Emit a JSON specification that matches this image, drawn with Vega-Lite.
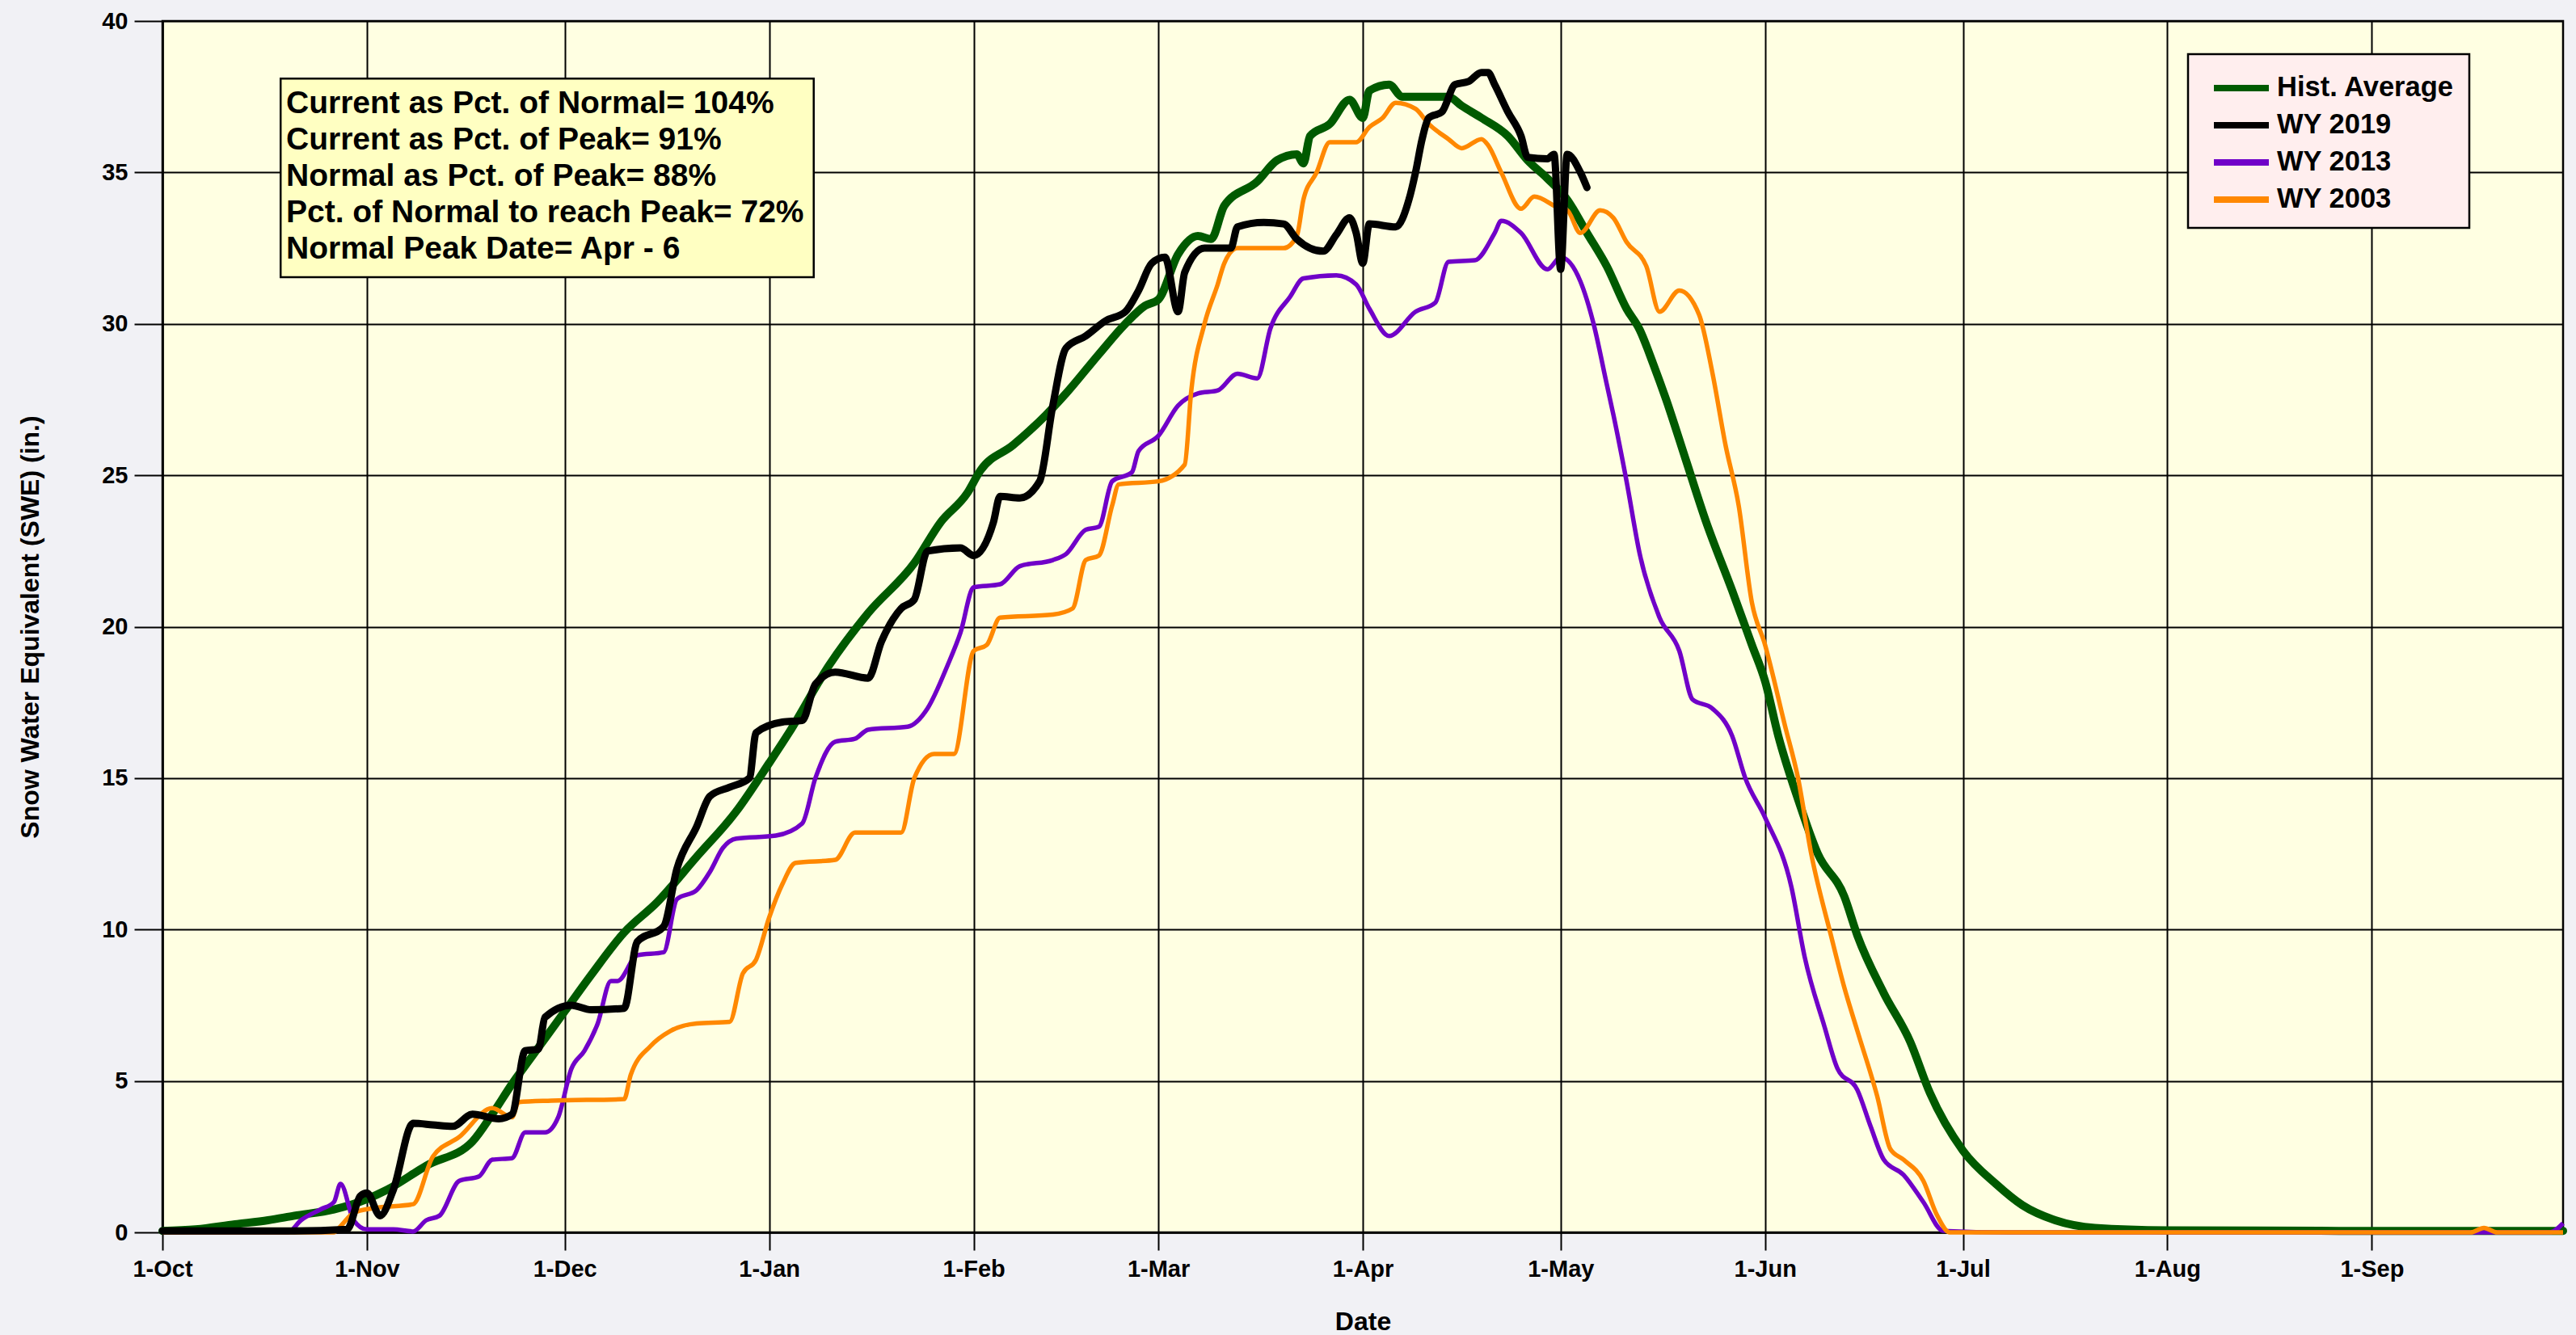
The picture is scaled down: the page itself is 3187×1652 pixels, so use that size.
{
  "$schema": "https://vega.github.io/schema/vega-lite/v6.json",
  "autosize": {"type": "none"},
  "width": 2970,
  "height": 1499,
  "padding": {"left": 201, "top": 26, "right": 16, "bottom": 127},
  "background": "#f1f1f5",
  "config": {
    "view": {"fill": "#ffffe2", "stroke": "black", "strokeWidth": 2.5},
    "font": "Liberation Sans",
    "axis": {
      "labelFont": "Liberation Sans", "labelFontWeight": "bold", "labelColor": "black",
      "titleFont": "Liberation Sans", "titleFontWeight": "bold", "titleColor": "black",
      "domainColor": "black", "domainWidth": 2.5, "tickColor": "black", "tickWidth": 2,
      "gridColor": "black", "gridWidth": 2, "gridOpacity": 1
    },
    "legend": {
      "orient": "none", "legendX": 2506, "legendY": 41,
      "fillColor": "#ffeeee", "strokeColor": "black", "strokeWidth": 2.5,
      "padding": 18, "symbolType": "M-1.7,0H1.7", "symbolStrokeWidth": 8, "symbolSize": 1600,
      "symbolFillColor": "transparent", "symbolOffset": 24,
      "labelFont": "Liberation Sans", "labelFontWeight": "bold", "labelFontSize": 34.5,
      "labelColor": "black", "labelOffset": 20, "rowPadding": 5, "labelLimit": 800
    }
  },
  "datasets": {
    "swe": [
    {"series": "Hist. Average", "date": "2018-10-01", "swe": 0.05},
    {"series": "Hist. Average", "date": "2018-10-06", "swe": 0.1},
    {"series": "Hist. Average", "date": "2018-10-12", "swe": 0.27},
    {"series": "Hist. Average", "date": "2018-10-17", "swe": 0.4},
    {"series": "Hist. Average", "date": "2018-10-21", "swe": 0.55},
    {"series": "Hist. Average", "date": "2018-10-27", "swe": 0.76},
    {"series": "Hist. Average", "date": "2018-11-01", "swe": 1.1},
    {"series": "Hist. Average", "date": "2018-11-04", "swe": 1.4},
    {"series": "Hist. Average", "date": "2018-11-10", "swe": 2.2},
    {"series": "Hist. Average", "date": "2018-11-17", "swe": 3.0},
    {"series": "Hist. Average", "date": "2018-11-20", "swe": 3.9},
    {"series": "Hist. Average", "date": "2018-11-23", "swe": 4.9},
    {"series": "Hist. Average", "date": "2018-11-26", "swe": 5.8},
    {"series": "Hist. Average", "date": "2018-12-01", "swe": 7.3},
    {"series": "Hist. Average", "date": "2018-12-05", "swe": 8.5},
    {"series": "Hist. Average", "date": "2018-12-10", "swe": 9.9},
    {"series": "Hist. Average", "date": "2018-12-15", "swe": 10.9},
    {"series": "Hist. Average", "date": "2018-12-21", "swe": 12.4},
    {"series": "Hist. Average", "date": "2018-12-27", "swe": 13.9},
    {"series": "Hist. Average", "date": "2019-01-01", "swe": 15.5},
    {"series": "Hist. Average", "date": "2019-01-04", "swe": 16.5},
    {"series": "Hist. Average", "date": "2019-01-10", "swe": 18.7},
    {"series": "Hist. Average", "date": "2019-01-16", "swe": 20.45},
    {"series": "Hist. Average", "date": "2019-01-23", "swe": 22.1},
    {"series": "Hist. Average", "date": "2019-01-27", "swe": 23.45},
    {"series": "Hist. Average", "date": "2019-01-31", "swe": 24.4},
    {"series": "Hist. Average", "date": "2019-02-02", "swe": 25.15},
    {"series": "Hist. Average", "date": "2019-02-07", "swe": 26.0},
    {"series": "Hist. Average", "date": "2019-02-12", "swe": 27.0},
    {"series": "Hist. Average", "date": "2019-02-15", "swe": 27.7},
    {"series": "Hist. Average", "date": "2019-02-20", "swe": 29.0},
    {"series": "Hist. Average", "date": "2019-02-24", "swe": 30.0},
    {"series": "Hist. Average", "date": "2019-02-27", "swe": 30.6},
    {"series": "Hist. Average", "date": "2019-03-01", "swe": 30.8},
    {"series": "Hist. Average", "date": "2019-03-04", "swe": 32.3},
    {"series": "Hist. Average", "date": "2019-03-07", "swe": 32.9},
    {"series": "Hist. Average", "date": "2019-03-09", "swe": 32.8},
    {"series": "Hist. Average", "date": "2019-03-11", "swe": 33.9},
    {"series": "Hist. Average", "date": "2019-03-16", "swe": 34.7},
    {"series": "Hist. Average", "date": "2019-03-19", "swe": 35.4},
    {"series": "Hist. Average", "date": "2019-03-22", "swe": 35.6},
    {"series": "Hist. Average", "date": "2019-03-23", "swe": 35.3},
    {"series": "Hist. Average", "date": "2019-03-24", "swe": 36.2},
    {"series": "Hist. Average", "date": "2019-03-27", "swe": 36.6},
    {"series": "Hist. Average", "date": "2019-03-30", "swe": 37.4},
    {"series": "Hist. Average", "date": "2019-04-01", "swe": 36.8},
    {"series": "Hist. Average", "date": "2019-04-02", "swe": 37.7},
    {"series": "Hist. Average", "date": "2019-04-05", "swe": 37.9},
    {"series": "Hist. Average", "date": "2019-04-07", "swe": 37.5},
    {"series": "Hist. Average", "date": "2019-04-10", "swe": 37.5},
    {"series": "Hist. Average", "date": "2019-04-14", "swe": 37.5},
    {"series": "Hist. Average", "date": "2019-04-16", "swe": 37.2},
    {"series": "Hist. Average", "date": "2019-04-19", "swe": 36.8},
    {"series": "Hist. Average", "date": "2019-04-23", "swe": 36.2},
    {"series": "Hist. Average", "date": "2019-04-26", "swe": 35.4},
    {"series": "Hist. Average", "date": "2019-04-29", "swe": 34.8},
    {"series": "Hist. Average", "date": "2019-05-02", "swe": 34.1},
    {"series": "Hist. Average", "date": "2019-05-05", "swe": 33.0},
    {"series": "Hist. Average", "date": "2019-05-08", "swe": 31.9},
    {"series": "Hist. Average", "date": "2019-05-11", "swe": 30.5},
    {"series": "Hist. Average", "date": "2019-05-13", "swe": 29.8},
    {"series": "Hist. Average", "date": "2019-05-15", "swe": 28.7},
    {"series": "Hist. Average", "date": "2019-05-17", "swe": 27.5},
    {"series": "Hist. Average", "date": "2019-05-20", "swe": 25.5},
    {"series": "Hist. Average", "date": "2019-05-23", "swe": 23.5},
    {"series": "Hist. Average", "date": "2019-05-27", "swe": 21.2},
    {"series": "Hist. Average", "date": "2019-05-30", "swe": 19.4},
    {"series": "Hist. Average", "date": "2019-06-01", "swe": 18.2},
    {"series": "Hist. Average", "date": "2019-06-03", "swe": 16.4},
    {"series": "Hist. Average", "date": "2019-06-06", "swe": 14.3},
    {"series": "Hist. Average", "date": "2019-06-09", "swe": 12.5},
    {"series": "Hist. Average", "date": "2019-06-13", "swe": 11.1},
    {"series": "Hist. Average", "date": "2019-06-15", "swe": 9.8},
    {"series": "Hist. Average", "date": "2019-06-19", "swe": 7.9},
    {"series": "Hist. Average", "date": "2019-06-23", "swe": 6.3},
    {"series": "Hist. Average", "date": "2019-06-26", "swe": 4.6},
    {"series": "Hist. Average", "date": "2019-07-01", "swe": 2.7},
    {"series": "Hist. Average", "date": "2019-07-06", "swe": 1.6},
    {"series": "Hist. Average", "date": "2019-07-10", "swe": 0.9},
    {"series": "Hist. Average", "date": "2019-07-15", "swe": 0.4},
    {"series": "Hist. Average", "date": "2019-07-21", "swe": 0.15},
    {"series": "Hist. Average", "date": "2019-08-01", "swe": 0.07},
    {"series": "Hist. Average", "date": "2019-08-27", "swe": 0.05},
    {"series": "Hist. Average", "date": "2019-09-30", "swe": 0.05},

    {"series": "WY 2019", "date": "2018-10-01", "swe": 0.05},
    {"series": "WY 2019", "date": "2018-10-21", "swe": 0.05},
    {"series": "WY 2019", "date": "2018-10-29", "swe": 0.1},
    {"series": "WY 2019", "date": "2018-10-31", "swe": 1.2},
    {"series": "WY 2019", "date": "2018-11-01", "swe": 1.3},
    {"series": "WY 2019", "date": "2018-11-03", "swe": 0.55},
    {"series": "WY 2019", "date": "2018-11-05", "swe": 1.4},
    {"series": "WY 2019", "date": "2018-11-08", "swe": 3.6},
    {"series": "WY 2019", "date": "2018-11-11", "swe": 3.55},
    {"series": "WY 2019", "date": "2018-11-14", "swe": 3.5},
    {"series": "WY 2019", "date": "2018-11-17", "swe": 3.9},
    {"series": "WY 2019", "date": "2018-11-21", "swe": 3.75},
    {"series": "WY 2019", "date": "2018-11-23", "swe": 3.9},
    {"series": "WY 2019", "date": "2018-11-25", "swe": 6.0},
    {"series": "WY 2019", "date": "2018-11-27", "swe": 6.05},
    {"series": "WY 2019", "date": "2018-11-28", "swe": 7.1},
    {"series": "WY 2019", "date": "2018-12-02", "swe": 7.5},
    {"series": "WY 2019", "date": "2018-12-05", "swe": 7.35},
    {"series": "WY 2019", "date": "2018-12-10", "swe": 7.4},
    {"series": "WY 2019", "date": "2018-12-12", "swe": 9.6},
    {"series": "WY 2019", "date": "2018-12-16", "swe": 10.1},
    {"series": "WY 2019", "date": "2018-12-18", "swe": 12.0},
    {"series": "WY 2019", "date": "2018-12-21", "swe": 13.4},
    {"series": "WY 2019", "date": "2018-12-23", "swe": 14.4},
    {"series": "WY 2019", "date": "2018-12-26", "swe": 14.7},
    {"series": "WY 2019", "date": "2018-12-29", "swe": 15.0},
    {"series": "WY 2019", "date": "2018-12-30", "swe": 16.5},
    {"series": "WY 2019", "date": "2019-01-03", "swe": 16.85},
    {"series": "WY 2019", "date": "2019-01-06", "swe": 16.9},
    {"series": "WY 2019", "date": "2019-01-08", "swe": 18.1},
    {"series": "WY 2019", "date": "2019-01-11", "swe": 18.5},
    {"series": "WY 2019", "date": "2019-01-16", "swe": 18.3},
    {"series": "WY 2019", "date": "2019-01-18", "swe": 19.5},
    {"series": "WY 2019", "date": "2019-01-21", "swe": 20.6},
    {"series": "WY 2019", "date": "2019-01-23", "swe": 20.9},
    {"series": "WY 2019", "date": "2019-01-25", "swe": 22.5},
    {"series": "WY 2019", "date": "2019-01-30", "swe": 22.6},
    {"series": "WY 2019", "date": "2019-02-01", "swe": 22.35},
    {"series": "WY 2019", "date": "2019-02-04", "swe": 23.45},
    {"series": "WY 2019", "date": "2019-02-05", "swe": 24.3},
    {"series": "WY 2019", "date": "2019-02-08", "swe": 24.25},
    {"series": "WY 2019", "date": "2019-02-11", "swe": 24.8},
    {"series": "WY 2019", "date": "2019-02-13", "swe": 27.3},
    {"series": "WY 2019", "date": "2019-02-15", "swe": 29.2},
    {"series": "WY 2019", "date": "2019-02-18", "swe": 29.6},
    {"series": "WY 2019", "date": "2019-02-21", "swe": 30.1},
    {"series": "WY 2019", "date": "2019-02-24", "swe": 30.4},
    {"series": "WY 2019", "date": "2019-02-26", "swe": 31.1},
    {"series": "WY 2019", "date": "2019-02-28", "swe": 32.0},
    {"series": "WY 2019", "date": "2019-03-02", "swe": 32.2},
    {"series": "WY 2019", "date": "2019-03-04", "swe": 30.4},
    {"series": "WY 2019", "date": "2019-03-05", "swe": 31.7},
    {"series": "WY 2019", "date": "2019-03-08", "swe": 32.5},
    {"series": "WY 2019", "date": "2019-03-12", "swe": 32.5},
    {"series": "WY 2019", "date": "2019-03-13", "swe": 33.2},
    {"series": "WY 2019", "date": "2019-03-17", "swe": 33.35},
    {"series": "WY 2019", "date": "2019-03-20", "swe": 33.3},
    {"series": "WY 2019", "date": "2019-03-22", "swe": 32.8},
    {"series": "WY 2019", "date": "2019-03-26", "swe": 32.4},
    {"series": "WY 2019", "date": "2019-03-28", "swe": 32.95},
    {"series": "WY 2019", "date": "2019-03-30", "swe": 33.5},
    {"series": "WY 2019", "date": "2019-03-31", "swe": 33.0},
    {"series": "WY 2019", "date": "2019-04-01", "swe": 32.0},
    {"series": "WY 2019", "date": "2019-04-02", "swe": 33.3},
    {"series": "WY 2019", "date": "2019-04-06", "swe": 33.2},
    {"series": "WY 2019", "date": "2019-04-08", "swe": 34.1},
    {"series": "WY 2019", "date": "2019-04-09", "swe": 35.0},
    {"series": "WY 2019", "date": "2019-04-10", "swe": 36.1},
    {"series": "WY 2019", "date": "2019-04-11", "swe": 36.8},
    {"series": "WY 2019", "date": "2019-04-13", "swe": 37.0},
    {"series": "WY 2019", "date": "2019-04-15", "swe": 37.9},
    {"series": "WY 2019", "date": "2019-04-17", "swe": 38.0},
    {"series": "WY 2019", "date": "2019-04-19", "swe": 38.3},
    {"series": "WY 2019", "date": "2019-04-20", "swe": 38.3},
    {"series": "WY 2019", "date": "2019-04-21", "swe": 37.9},
    {"series": "WY 2019", "date": "2019-04-23", "swe": 37.0},
    {"series": "WY 2019", "date": "2019-04-25", "swe": 36.2},
    {"series": "WY 2019", "date": "2019-04-26", "swe": 35.5},
    {"series": "WY 2019", "date": "2019-04-29", "swe": 35.45},
    {"series": "WY 2019", "date": "2019-04-30", "swe": 35.6},
    {"series": "WY 2019", "date": "2019-05-01", "swe": 31.8},
    {"series": "WY 2019", "date": "2019-05-02", "swe": 35.6},
    {"series": "WY 2019", "date": "2019-05-04", "swe": 35.0},
    {"series": "WY 2019", "date": "2019-05-05", "swe": 34.5},

    {"series": "WY 2013", "date": "2018-10-01", "swe": 0},
    {"series": "WY 2013", "date": "2018-10-20", "swe": 0},
    {"series": "WY 2013", "date": "2018-10-22", "swe": 0.4},
    {"series": "WY 2013", "date": "2018-10-25", "swe": 0.76},
    {"series": "WY 2013", "date": "2018-10-27", "swe": 1.0},
    {"series": "WY 2013", "date": "2018-10-28", "swe": 1.6},
    {"series": "WY 2013", "date": "2018-10-30", "swe": 0.4},
    {"series": "WY 2013", "date": "2018-11-01", "swe": 0.1},
    {"series": "WY 2013", "date": "2018-11-05", "swe": 0.1},
    {"series": "WY 2013", "date": "2018-11-08", "swe": 0.03},
    {"series": "WY 2013", "date": "2018-11-10", "swe": 0.4},
    {"series": "WY 2013", "date": "2018-11-12", "swe": 0.55},
    {"series": "WY 2013", "date": "2018-11-15", "swe": 1.7},
    {"series": "WY 2013", "date": "2018-11-18", "swe": 1.85},
    {"series": "WY 2013", "date": "2018-11-20", "swe": 2.4},
    {"series": "WY 2013", "date": "2018-11-23", "swe": 2.45},
    {"series": "WY 2013", "date": "2018-11-25", "swe": 3.3},
    {"series": "WY 2013", "date": "2018-11-28", "swe": 3.3},
    {"series": "WY 2013", "date": "2018-11-30", "swe": 3.8},
    {"series": "WY 2013", "date": "2018-12-02", "swe": 5.4},
    {"series": "WY 2013", "date": "2018-12-04", "swe": 6.0},
    {"series": "WY 2013", "date": "2018-12-06", "swe": 6.9},
    {"series": "WY 2013", "date": "2018-12-08", "swe": 8.3},
    {"series": "WY 2013", "date": "2018-12-09", "swe": 8.3},
    {"series": "WY 2013", "date": "2018-12-12", "swe": 9.15},
    {"series": "WY 2013", "date": "2018-12-16", "swe": 9.25},
    {"series": "WY 2013", "date": "2018-12-18", "swe": 11.0},
    {"series": "WY 2013", "date": "2018-12-21", "swe": 11.3},
    {"series": "WY 2013", "date": "2018-12-23", "swe": 11.9},
    {"series": "WY 2013", "date": "2018-12-25", "swe": 12.7},
    {"series": "WY 2013", "date": "2018-12-27", "swe": 13.0},
    {"series": "WY 2013", "date": "2019-01-02", "swe": 13.1},
    {"series": "WY 2013", "date": "2019-01-06", "swe": 13.5},
    {"series": "WY 2013", "date": "2019-01-08", "swe": 15.0},
    {"series": "WY 2013", "date": "2019-01-11", "swe": 16.2},
    {"series": "WY 2013", "date": "2019-01-14", "swe": 16.3},
    {"series": "WY 2013", "date": "2019-01-16", "swe": 16.6},
    {"series": "WY 2013", "date": "2019-01-22", "swe": 16.7},
    {"series": "WY 2013", "date": "2019-01-25", "swe": 17.3},
    {"series": "WY 2013", "date": "2019-01-28", "swe": 18.7},
    {"series": "WY 2013", "date": "2019-01-30", "swe": 19.8},
    {"series": "WY 2013", "date": "2019-02-01", "swe": 21.3},
    {"series": "WY 2013", "date": "2019-02-05", "swe": 21.4},
    {"series": "WY 2013", "date": "2019-02-08", "swe": 22.0},
    {"series": "WY 2013", "date": "2019-02-13", "swe": 22.2},
    {"series": "WY 2013", "date": "2019-02-15", "swe": 22.4},
    {"series": "WY 2013", "date": "2019-02-18", "swe": 23.2},
    {"series": "WY 2013", "date": "2019-02-20", "swe": 23.3},
    {"series": "WY 2013", "date": "2019-02-22", "swe": 24.8},
    {"series": "WY 2013", "date": "2019-02-25", "swe": 25.1},
    {"series": "WY 2013", "date": "2019-02-26", "swe": 25.8},
    {"series": "WY 2013", "date": "2019-03-01", "swe": 26.3},
    {"series": "WY 2013", "date": "2019-03-04", "swe": 27.3},
    {"series": "WY 2013", "date": "2019-03-07", "swe": 27.7},
    {"series": "WY 2013", "date": "2019-03-10", "swe": 27.8},
    {"series": "WY 2013", "date": "2019-03-13", "swe": 28.35},
    {"series": "WY 2013", "date": "2019-03-16", "swe": 28.2},
    {"series": "WY 2013", "date": "2019-03-18", "swe": 29.85},
    {"series": "WY 2013", "date": "2019-03-21", "swe": 30.9},
    {"series": "WY 2013", "date": "2019-03-23", "swe": 31.5},
    {"series": "WY 2013", "date": "2019-03-28", "swe": 31.6},
    {"series": "WY 2013", "date": "2019-03-31", "swe": 31.3},
    {"series": "WY 2013", "date": "2019-04-02", "swe": 30.5},
    {"series": "WY 2013", "date": "2019-04-05", "swe": 29.6},
    {"series": "WY 2013", "date": "2019-04-09", "swe": 30.4},
    {"series": "WY 2013", "date": "2019-04-12", "swe": 30.7},
    {"series": "WY 2013", "date": "2019-04-14", "swe": 32.05},
    {"series": "WY 2013", "date": "2019-04-18", "swe": 32.1},
    {"series": "WY 2013", "date": "2019-04-21", "swe": 33.0},
    {"series": "WY 2013", "date": "2019-04-22", "swe": 33.4},
    {"series": "WY 2013", "date": "2019-04-25", "swe": 33.0},
    {"series": "WY 2013", "date": "2019-04-29", "swe": 31.8},
    {"series": "WY 2013", "date": "2019-05-01", "swe": 32.2},
    {"series": "WY 2013", "date": "2019-05-04", "swe": 31.4},
    {"series": "WY 2013", "date": "2019-05-06", "swe": 30.0},
    {"series": "WY 2013", "date": "2019-05-08", "swe": 28.0},
    {"series": "WY 2013", "date": "2019-05-09", "swe": 27.0},
    {"series": "WY 2013", "date": "2019-05-11", "swe": 24.8},
    {"series": "WY 2013", "date": "2019-05-13", "swe": 22.4},
    {"series": "WY 2013", "date": "2019-05-16", "swe": 20.3},
    {"series": "WY 2013", "date": "2019-05-19", "swe": 19.2},
    {"series": "WY 2013", "date": "2019-05-21", "swe": 17.6},
    {"series": "WY 2013", "date": "2019-05-24", "swe": 17.3},
    {"series": "WY 2013", "date": "2019-05-27", "swe": 16.4},
    {"series": "WY 2013", "date": "2019-05-29", "swe": 15.0},
    {"series": "WY 2013", "date": "2019-06-01", "swe": 13.7},
    {"series": "WY 2013", "date": "2019-06-05", "swe": 11.4},
    {"series": "WY 2013", "date": "2019-06-07", "swe": 9.1},
    {"series": "WY 2013", "date": "2019-06-10", "swe": 6.8},
    {"series": "WY 2013", "date": "2019-06-12", "swe": 5.4},
    {"series": "WY 2013", "date": "2019-06-15", "swe": 4.7},
    {"series": "WY 2013", "date": "2019-06-17", "swe": 3.5},
    {"series": "WY 2013", "date": "2019-06-19", "swe": 2.4},
    {"series": "WY 2013", "date": "2019-06-22", "swe": 1.9},
    {"series": "WY 2013", "date": "2019-06-25", "swe": 1.0},
    {"series": "WY 2013", "date": "2019-06-28", "swe": 0.05},
    {"series": "WY 2013", "date": "2019-07-08", "swe": 0},
    {"series": "WY 2013", "date": "2019-09-28", "swe": 0},
    {"series": "WY 2013", "date": "2019-09-30", "swe": 0.3},

    {"series": "WY 2003", "date": "2018-10-01", "swe": 0},
    {"series": "WY 2003", "date": "2018-10-27", "swe": 0},
    {"series": "WY 2003", "date": "2018-10-28", "swe": 0.2},
    {"series": "WY 2003", "date": "2018-10-30", "swe": 0.65},
    {"series": "WY 2003", "date": "2018-11-02", "swe": 0.8},
    {"series": "WY 2003", "date": "2018-11-08", "swe": 0.93},
    {"series": "WY 2003", "date": "2018-11-11", "swe": 2.5},
    {"series": "WY 2003", "date": "2018-11-15", "swe": 3.15},
    {"series": "WY 2003", "date": "2018-11-20", "swe": 4.1},
    {"series": "WY 2003", "date": "2018-11-23", "swe": 3.8},
    {"series": "WY 2003", "date": "2018-11-24", "swe": 4.3},
    {"series": "WY 2003", "date": "2018-11-29", "swe": 4.35},
    {"series": "WY 2003", "date": "2018-12-10", "swe": 4.4},
    {"series": "WY 2003", "date": "2018-12-11", "swe": 5.2},
    {"series": "WY 2003", "date": "2018-12-14", "swe": 6.15},
    {"series": "WY 2003", "date": "2018-12-17", "swe": 6.65},
    {"series": "WY 2003", "date": "2018-12-21", "swe": 6.9},
    {"series": "WY 2003", "date": "2018-12-26", "swe": 6.95},
    {"series": "WY 2003", "date": "2018-12-28", "swe": 8.55},
    {"series": "WY 2003", "date": "2018-12-30", "swe": 9.0},
    {"series": "WY 2003", "date": "2019-01-01", "swe": 10.4},
    {"series": "WY 2003", "date": "2019-01-03", "swe": 11.5},
    {"series": "WY 2003", "date": "2019-01-05", "swe": 12.2},
    {"series": "WY 2003", "date": "2019-01-11", "swe": 12.3},
    {"series": "WY 2003", "date": "2019-01-14", "swe": 13.2},
    {"series": "WY 2003", "date": "2019-01-21", "swe": 13.2},
    {"series": "WY 2003", "date": "2019-01-23", "swe": 15.0},
    {"series": "WY 2003", "date": "2019-01-26", "swe": 15.8},
    {"series": "WY 2003", "date": "2019-01-29", "swe": 15.8},
    {"series": "WY 2003", "date": "2019-02-01", "swe": 19.2},
    {"series": "WY 2003", "date": "2019-02-03", "swe": 19.4},
    {"series": "WY 2003", "date": "2019-02-05", "swe": 20.3},
    {"series": "WY 2003", "date": "2019-02-13", "swe": 20.4},
    {"series": "WY 2003", "date": "2019-02-16", "swe": 20.6},
    {"series": "WY 2003", "date": "2019-02-18", "swe": 22.2},
    {"series": "WY 2003", "date": "2019-02-20", "swe": 22.35},
    {"series": "WY 2003", "date": "2019-02-22", "swe": 24.0},
    {"series": "WY 2003", "date": "2019-02-23", "swe": 24.7},
    {"series": "WY 2003", "date": "2019-03-01", "swe": 24.8},
    {"series": "WY 2003", "date": "2019-03-05", "swe": 25.35},
    {"series": "WY 2003", "date": "2019-03-06", "swe": 27.8},
    {"series": "WY 2003", "date": "2019-03-08", "swe": 30.0},
    {"series": "WY 2003", "date": "2019-03-10", "swe": 31.3},
    {"series": "WY 2003", "date": "2019-03-11", "swe": 32.0},
    {"series": "WY 2003", "date": "2019-03-13", "swe": 32.5},
    {"series": "WY 2003", "date": "2019-03-20", "swe": 32.5},
    {"series": "WY 2003", "date": "2019-03-22", "swe": 32.9},
    {"series": "WY 2003", "date": "2019-03-23", "swe": 34.1},
    {"series": "WY 2003", "date": "2019-03-25", "swe": 35.0},
    {"series": "WY 2003", "date": "2019-03-27", "swe": 36.0},
    {"series": "WY 2003", "date": "2019-03-31", "swe": 36.0},
    {"series": "WY 2003", "date": "2019-04-02", "swe": 36.5},
    {"series": "WY 2003", "date": "2019-04-04", "swe": 36.8},
    {"series": "WY 2003", "date": "2019-04-06", "swe": 37.3},
    {"series": "WY 2003", "date": "2019-04-09", "swe": 37.1},
    {"series": "WY 2003", "date": "2019-04-11", "swe": 36.6},
    {"series": "WY 2003", "date": "2019-04-14", "swe": 36.1},
    {"series": "WY 2003", "date": "2019-04-16", "swe": 35.8},
    {"series": "WY 2003", "date": "2019-04-19", "swe": 36.1},
    {"series": "WY 2003", "date": "2019-04-20", "swe": 35.9},
    {"series": "WY 2003", "date": "2019-04-22", "swe": 35.0},
    {"series": "WY 2003", "date": "2019-04-25", "swe": 33.8},
    {"series": "WY 2003", "date": "2019-04-27", "swe": 34.2},
    {"series": "WY 2003", "date": "2019-05-01", "swe": 33.8},
    {"series": "WY 2003", "date": "2019-05-02", "swe": 33.75},
    {"series": "WY 2003", "date": "2019-05-04", "swe": 33.0},
    {"series": "WY 2003", "date": "2019-05-07", "swe": 33.75},
    {"series": "WY 2003", "date": "2019-05-09", "swe": 33.5},
    {"series": "WY 2003", "date": "2019-05-11", "swe": 32.7},
    {"series": "WY 2003", "date": "2019-05-14", "swe": 31.9},
    {"series": "WY 2003", "date": "2019-05-16", "swe": 30.4},
    {"series": "WY 2003", "date": "2019-05-19", "swe": 31.1},
    {"series": "WY 2003", "date": "2019-05-22", "swe": 30.3},
    {"series": "WY 2003", "date": "2019-05-24", "swe": 28.4},
    {"series": "WY 2003", "date": "2019-05-26", "swe": 26.0},
    {"series": "WY 2003", "date": "2019-05-28", "swe": 24.0},
    {"series": "WY 2003", "date": "2019-05-30", "swe": 20.8},
    {"series": "WY 2003", "date": "2019-06-01", "swe": 19.4},
    {"series": "WY 2003", "date": "2019-06-04", "swe": 16.75},
    {"series": "WY 2003", "date": "2019-06-06", "swe": 15.0},
    {"series": "WY 2003", "date": "2019-06-08", "swe": 12.5},
    {"series": "WY 2003", "date": "2019-06-11", "swe": 9.8},
    {"series": "WY 2003", "date": "2019-06-13", "swe": 8.1},
    {"series": "WY 2003", "date": "2019-06-15", "swe": 6.65},
    {"series": "WY 2003", "date": "2019-06-18", "swe": 4.5},
    {"series": "WY 2003", "date": "2019-06-20", "swe": 2.75},
    {"series": "WY 2003", "date": "2019-06-22", "swe": 2.4},
    {"series": "WY 2003", "date": "2019-06-25", "swe": 1.7},
    {"series": "WY 2003", "date": "2019-06-27", "swe": 0.6},
    {"series": "WY 2003", "date": "2019-06-29", "swe": 0},
    {"series": "WY 2003", "date": "2019-09-16", "swe": 0},
    {"series": "WY 2003", "date": "2019-09-18", "swe": 0.15},
    {"series": "WY 2003", "date": "2019-09-20", "swe": 0},
    {"series": "WY 2003", "date": "2019-09-30", "swe": 0}
    ],
    "note": [
      {"lines": ["Current as Pct. of Normal= 104%", "Current as Pct. of Peak= 91%", "Normal as Pct. of Peak= 88%", "Pct. of Normal to reach Peak= 72%", "Normal Peak Date= Apr - 6"]}
    ]
  },
  "layer": [
    {
      "data": {"name": "swe"},
      "encoding": {
        "x": {
          "field": "date", "type": "temporal",
          "scale": {"type": "utc", "nice": false,
            "domain": [{"year": 2018, "month": 10, "date": 1, "utc": true}, {"year": 2019, "month": 9, "date": 30, "utc": true}]},
          "axis": {
            "title": "Date", "format": "%-d-%b", "tickCount": {"interval": "month", "step": 1},
            "labelFontSize": 29, "titleFontSize": 32, "tickSize": 22, "labelPadding": 9,
            "titlePadding": 35, "labelFlush": false, "labelOverlap": false, "grid": true
          }
        },
        "y": {
          "field": "swe", "type": "quantitative",
          "scale": {"domain": [0, 40], "nice": false, "zero": true},
          "axis": {
            "title": "Snow Water Equivalent (SWE) (in.)", "values": [0, 5, 10, 15, 20, 25, 30, 35, 40],
            "labelFontSize": 29, "titleFontSize": 32, "tickSize": 35, "labelPadding": 8,
            "titlePadding": 71, "grid": true
          }
        },
        "color": {
          "field": "series", "type": "nominal",
          "scale": {"domain": ["Hist. Average", "WY 2019", "WY 2013", "WY 2003"],
                    "range": ["#005a00", "#000000", "#7000c8", "#ff8800"]},
          "legend": {"title": null, "labelExpr": "datum.label + '\u00a0\u00a0\u00a0\u00a0'"}
        }
      },
      "layer": [
        {"transform": [{"filter": "datum.series === 'Hist. Average'"}],
         "mark": {"type": "line", "strokeWidth": 10, "interpolate": "monotone", "strokeJoin": "round", "strokeCap": "round"}},
        {"transform": [{"filter": "datum.series === 'WY 2013'"}],
         "mark": {"type": "line", "strokeWidth": 5.5, "interpolate": "monotone", "strokeJoin": "round"}},
        {"transform": [{"filter": "datum.series === 'WY 2003'"}],
         "mark": {"type": "line", "strokeWidth": 5.5, "interpolate": "monotone", "strokeJoin": "round"}},
        {"transform": [{"filter": "datum.series === 'WY 2019'"}],
         "mark": {"type": "line", "strokeWidth": 9, "interpolate": "monotone", "strokeJoin": "round", "strokeCap": "round"}}
      ]
    },
    {
      "data": {"name": "note"},
      "mark": {"type": "rect", "fill": "#ffffc2", "stroke": "black", "strokeWidth": 2.5},
      "encoding": {
        "x": {"datum": {"year": 2018, "month": 10, "date": 18, "hours": 22, "utc": true}, "type": "temporal"},
        "x2": {"datum": {"year": 2019, "month": 1, "date": 7, "hours": 18, "utc": true}},
        "y": {"datum": 38.1, "type": "quantitative"},
        "y2": {"datum": 31.54}
      }
    },
    {
      "data": {"name": "note"},
      "mark": {"type": "text", "align": "left", "baseline": "middle", "font": "Liberation Sans",
               "fontWeight": "bold", "fontSize": 39, "lineHeight": 45, "color": "black"},
      "encoding": {
        "text": {"field": "lines"},
        "x": {"datum": {"year": 2018, "month": 10, "date": 19, "hours": 18, "utc": true}, "type": "temporal"},
        "y": {"datum": 37.28, "type": "quantitative"}
      }
    }
  ]
}
